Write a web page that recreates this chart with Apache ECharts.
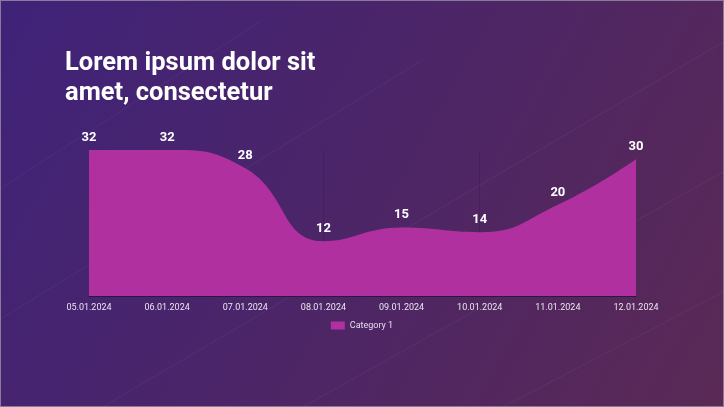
<!DOCTYPE html>
<html>
<head>
<meta charset="utf-8">
<style>
  html, body { margin: 0; padding: 0; }
  #chart { width: 724px; height: 407px; box-sizing: border-box; border: 1px solid #8a7a9a; }
</style>
<script src="https://cdn.jsdelivr.net/npm/echarts@6/dist/echarts.min.js"></script>
</head>
<body>
<div id="chart"></div>
<script>
const categories = ['05.01.2024', '06.01.2024', '07.01.2024', '08.01.2024', '09.01.2024', '10.01.2024', '11.01.2024', '12.01.2024']
const values = [32, 32, 28, 12, 15, 14, 20, 30]
const seriesName = 'Category 1'

const chart = echarts.init(document.getElementById('chart'))

// faint diagonal streaks in the background
const streaks = [[-20, 330, 420, 60], [100, 407, 724, 40], [300, 407, 724, 170], [500, 407, 724, 290], [-20, 200, 260, 20]]
  .map(([x1, y1, x2, y2]) => ({
    type: 'line',
    silent: true,
    z: -1,
    shape: { x1, y1, x2, y2 },
    style: { stroke: 'rgba(255,255,255,0.05)', lineWidth: 1 }
  }))

chart.setOption({
  backgroundColor: new echarts.graphic.LinearGradient(0, 0, 1, 1, [
    { offset: 0, color: '#3f2279' },
    { offset: 1, color: '#5a2955' }
  ]),
  textStyle: { fontFamily: 'Roboto' },
  graphic: streaks,
  title: {
    text: 'Lorem ipsum dolor sit\namet, consectetur',
    left: 59,
    top: 43,
    textStyle: { color: '#ffffff', fontSize: 25.5, fontWeight: 'bold', lineHeight: 30, fontFamily: 'Roboto' }
  },
  legend: {
    data: [seriesName],
    top: 315,
    left: 'center',
    icon: 'rect',
    itemWidth: 14,
    itemHeight: 8,
    itemGap: 6,
    textStyle: { color: '#e6dcef', fontSize: 9 }
  },
  grid: { left: 88, right: 87, top: 149, bottom: 110 },
  xAxis: {
    type: 'category',
    data: categories,
    boundaryGap: false,
    axisLine: { lineStyle: { color: '#2b1840', width: 1 } },
    axisTick: { show: false },
    axisLabel: { color: '#ece4f2', fontSize: 9, margin: 7 },
    splitLine: {
      show: true,
      interval: (i) => i === 3 || i === 5,
      lineStyle: { color: 'rgba(30,15,45,0.18)', width: 1 }
    }
  },
  yAxis: {
    type: 'value',
    min: 0,
    max: 32,
    show: false,
    splitLine: { show: false }
  },
  series: [{
    name: seriesName,
    type: 'line',
    data: values,
    smooth: 0.48,
    symbol: 'circle',
    symbolSize: 0,
    showSymbol: true,
    lineStyle: { width: 0 },
    itemStyle: { color: '#b0309f' },
    areaStyle: { color: '#b0309f', opacity: 1 },
    label: {
      show: true,
      position: 'top',
      distance: 6,
      color: '#ffffff',
      fontSize: 13,
      fontWeight: 'bold'
    }
  }]
})
</script>
</body>
</html>
